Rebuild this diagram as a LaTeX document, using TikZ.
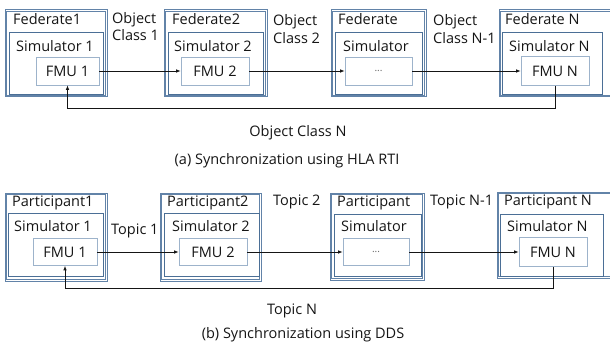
\documentclass[tikz,border=0pt]{standalone}
\usepackage{fontspec}
\setmainfont{Open Sans}
\usepackage{tikz}
\usetikzlibrary{arrows.meta,positioning,calc}
\definecolor{frameblue}{HTML}{6283A8}
\definecolor{simblue}{HTML}{4B6F96}
\definecolor{fmublue}{HTML}{9DB3CB}
\definecolor{ink}{HTML}{151515}

\begin{document}
\begin{tikzpicture}[
  x=1pt, y=-1pt,
  font=\fontsize{14.5}{17.5}\selectfont, text=ink,
  fedbox/.style={
    draw=frameblue, line width=0.7pt, minimum height=87pt, inner sep=0pt,
    append after command={\pgfextra{
      \draw[frameblue, line width=0.7pt]
        ($(\tikzlastnode.north west)+(1.9,1.9)$) rectangle ($(\tikzlastnode.south east)+(-1.9,-1.9)$);
    }}
  },
  simbox/.style={
    draw=simblue, line width=0.8pt, minimum height=62pt, inner sep=0pt
  },
  fmubox/.style={
    draw=fmublue, line width=0.7pt, minimum width=68pt, minimum height=28pt, inner sep=0pt
  },
  lbl/.style={inner sep=0pt, align=left, anchor=base west},
  dotted text/.style={font=\fontsize{10}{12}\selectfont, text=black!60},
  arrow/.style={-{Latex[length=4.5pt,width=3.6pt]}, line width=0.8pt, color=ink}
]
  \useasboundingbox (0,0) rectangle (610,344);
  \clip (0,0) rectangle (610,344);

  % (a) HLA RTI
  \node[fedbox, minimum width=102pt] (fed1) at (56,53) {};
  \node[simbox, minimum width=94pt] (sim1) at (56,63) {};
  \node[fmubox, minimum width=63pt] (fmu1) at (67.5,71) {FMU 1};
  \node[fedbox, minimum width=103pt] (fed2) at (215.5,53) {};
  \node[simbox, minimum width=95pt] (sim2) at (215.5,63) {};
  \node[fmubox] (fmu2) at (215,71) {FMU 2};
  \node[fedbox, minimum width=95pt] (fed3) at (378.5,53) {};
  \node[simbox, minimum width=87pt] (sim3) at (378.5,63) {};
  \node[fmubox, minimum width=67pt, dotted text] (dots1) at (378.5,71) {...};
  \node[fedbox, minimum width=122pt] (fedn) at (560,53) {};
  \node[simbox, minimum width=100pt] (simn) at (552,63) {};
  \node[fmubox, minimum height=29pt] (fmun) at (555,71) {FMU N};

  \node[lbl] at (13,24.5) {Federate1};
  \node[lbl] at (172,24.5) {Federate2};
  \node[lbl] at (338,24.5) {Federate};
  \node[lbl] at (505,24.5) {Federate N};
  \node[lbl] at (16,52) {Simulator 1};
  \node[lbl] at (174,52) {Simulator 2};
  \node[lbl] at (343,52) {Simulator};
  \node[lbl] at (509,52) {Simulator N};

  \node[lbl] (oc1) at (112,41) {Object\\Class 1};
  \node[lbl] (oc2) at (273,43.5) {Object\\Class 2};
  \node[lbl] (ocn1) at (433,43.5) {Object\\Class N-1};
  \node[lbl, anchor=base] (ocn) at (298,137) {Object Class N};
  \node[lbl, anchor=base] (capa) at (287,165) {(a) Synchronization using HLA RTI};

  \draw[arrow] (fmu1) -- (fmu2);
  \draw[arrow] (fmu2) -- (dots1);
  \draw[arrow] (dots1) -- (fmun);
  \draw[arrow] (fmun.south) -- ++(0,22.5) -| (fmu1.south);

  % (b) DDS
  \node[fedbox, minimum width=102pt, minimum height=88pt] (part1) at (56,237) {};
  \node[simbox, minimum width=95pt, minimum height=63pt] (psim1) at (55.5,244.5) {};
  \node[fmubox, minimum width=64pt, minimum height=27pt] (pfmu1) at (65,252) {FMU 1};
  \node[fedbox, minimum width=101pt, minimum height=88pt] (part2) at (210.5,237) {};
  \node[simbox, minimum width=95pt, minimum height=63pt] (psim2) at (211.5,244.5) {};
  \node[fmubox, minimum height=27pt] (pfmu2) at (213,252) {FMU 2};
  \node[fedbox, minimum width=94pt] (part3) at (377,236.5) {};
  \node[simbox, minimum width=87pt] (psim3) at (377.5,245) {};
  \node[fmubox, minimum width=66pt, minimum height=27pt, dotted text] (dots2) at (376,252) {...};
  \node[fedbox, minimum width=124pt, minimum height=86pt] (partn) at (559,235) {};
  \node[simbox, minimum width=103pt] (psimn) at (551.5,245) {};
  \node[fmubox, minimum height=29pt] (pfmun) at (553,252) {FMU N};

  \node[lbl] at (12,207) {Participant1};
  \node[lbl] at (167,207) {Participant2};
  \node[lbl] at (337,207) {Participant};
  \node[lbl] at (504,205.5) {Participant N};
  \node[lbl] at (14,231.5) {Simulator 1};
  \node[lbl] at (172,231.5) {Simulator 2};
  \node[lbl] at (341,232) {Simulator};
  \node[lbl] at (507,232) {Simulator N};

  \node[lbl] (tp1) at (111,235) {Topic 1};
  \node[lbl] (tp2) at (273,205.5) {Topic 2};
  \node[lbl] (tpn1) at (430,205.5) {Topic N-1};
  \node[lbl, anchor=base] (tpn) at (292,315) {Topic N};
  \node[lbl, anchor=base] (capb) at (303,338) {(b) Synchronization using DDS};

  \draw[arrow] (pfmu1) -- (pfmu2);
  \draw[arrow] (pfmu2) -- (dots2);
  \draw[arrow] (dots2) -- (pfmun);
  \draw[arrow] (pfmun.south) -- ++(0,22) -| (pfmu1.south);
\end{tikzpicture}
\end{document}
